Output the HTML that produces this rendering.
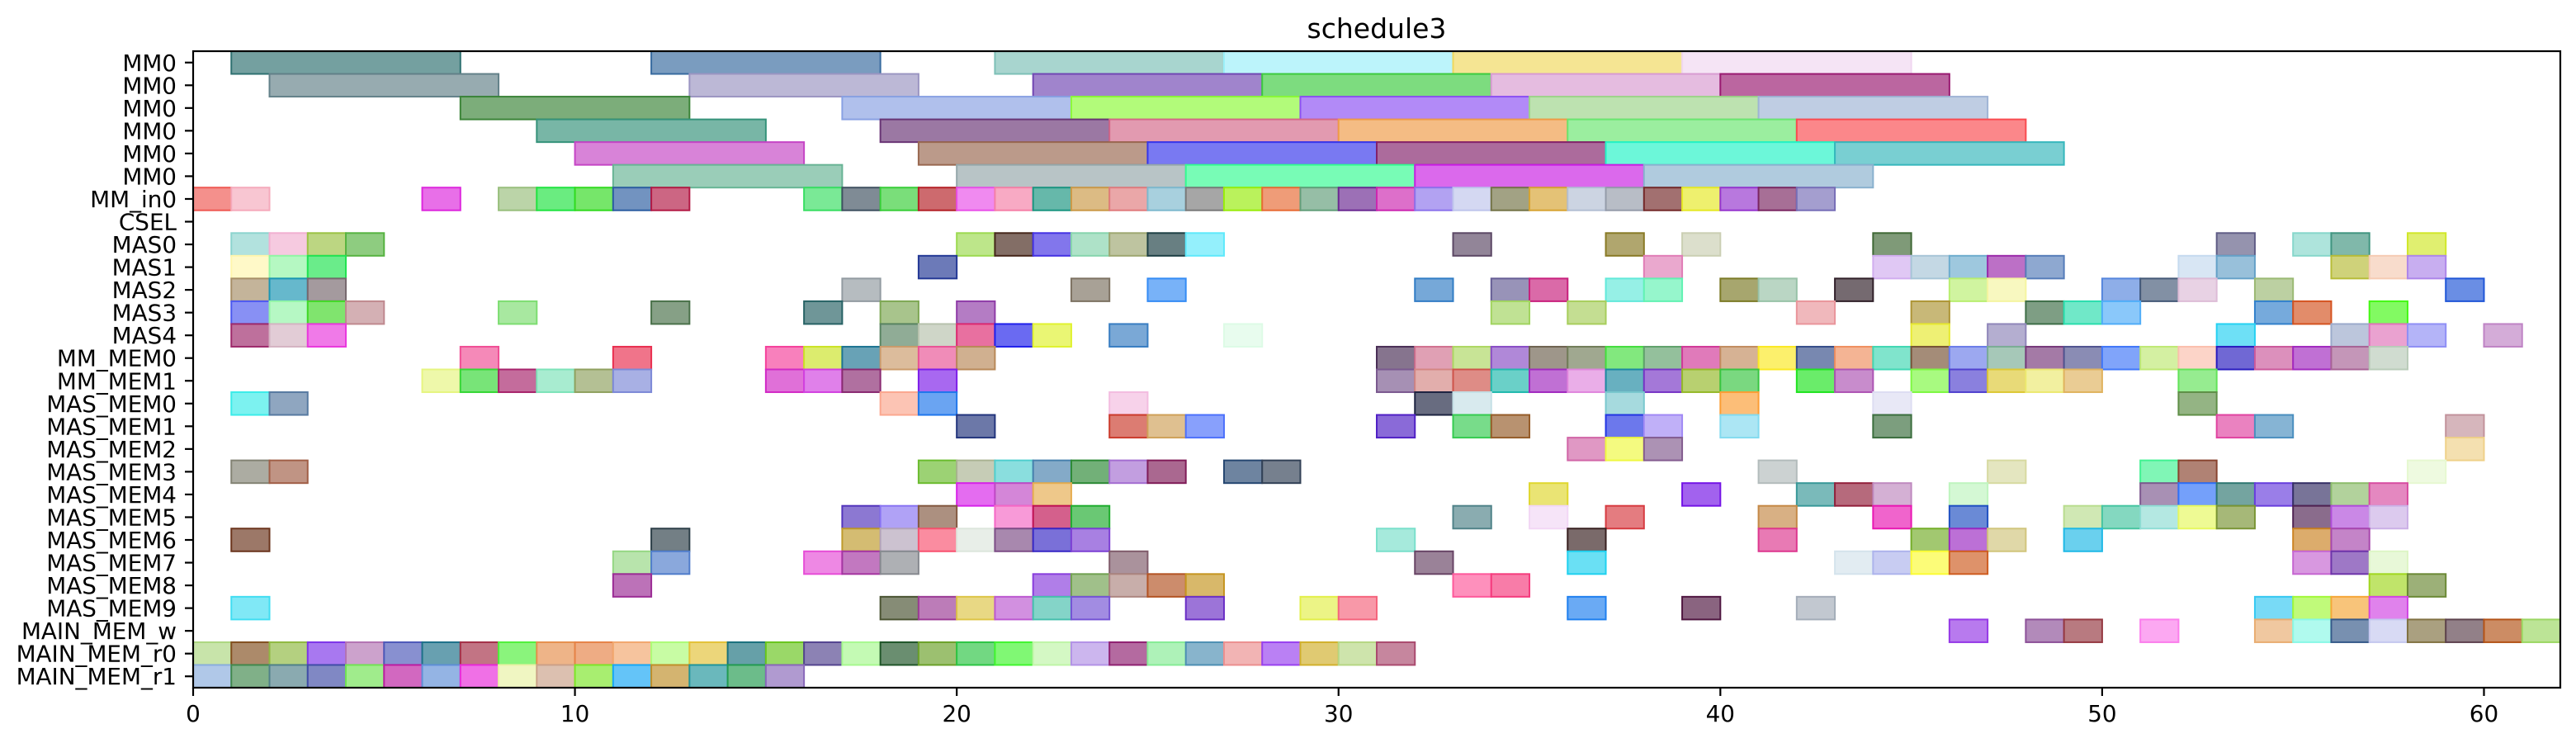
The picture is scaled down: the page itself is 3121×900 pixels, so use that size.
<!DOCTYPE html>
<html>
<head>
<meta charset="utf-8">
<style>
html,body{margin:0;padding:0;background:#fff;}
svg{display:block;font-family:"DejaVu Sans","Liberation Sans",sans-serif;}
</style>
</head>
<body>
<svg id="chart" width="3121" height="900" viewBox="0 0 3121 900" xmlns="http://www.w3.org/2000/svg">
  <rect x="0" y="0" width="3121" height="900" fill="#fff"/>
  <text x="1668" y="46" font-size="33" text-anchor="middle" fill="#000">schedule3</text>
  <g id="bars"></g>
  <g id="axes"></g>
</svg>
<script>
const rowLabels = ["MM0","MM0","MM0","MM0","MM0","MM0","MM_in0","CSEL","MAS0","MAS1","MAS2","MAS3","MAS4","MM_MEM0","MM_MEM1","MAS_MEM0","MAS_MEM1","MAS_MEM2","MAS_MEM3","MAS_MEM4","MAS_MEM5","MAS_MEM6","MAS_MEM7","MAS_MEM8","MAS_MEM9","MAIN_MEM_w","MAIN_MEM_r0","MAIN_MEM_r1"];
const xTicks = [0,10,20,30,40,50,60];
const longDur = 6;
// long MM0 bars: [row, start, color]
const longBars = [
[0,1,"#74a0a0"],[0,12,"#7a9cbf"],[0,21,"#a8d5cf"],[0,27,"#bcf4fb"],[0,33,"#f5e593"],[0,39,"#f5e4f5"],
[1,2,"#97abb0"],[1,13,"#bcb8d6"],[1,22,"#a084cc"],[1,28,"#7ddc7f"],[1,34,"#e5bce0"],[1,40,"#bb66a0"],
[2,7,"#7cad7a"],[2,17,"#b0c0ec"],[2,23,"#b2fb7a"],[2,29,"#b28af7"],[2,35,"#bde2b0"],[2,41,"#bfcde3"],
[3,9,"#78b6a6"],[3,18,"#9b78a3"],[3,24,"#e29ab0"],[3,30,"#f4bc84"],[3,36,"#9bee9f"],[3,42,"#fb878a"],
[4,10,"#d883d8"],[4,19,"#bb9a8a"],[4,25,"#7979f2"],[4,31,"#ac6b9c"],[4,37,"#6cf7d9"],[4,43,"#79cfd2"],
[5,11,"#9acdb8"],[5,20,"#b8c4c6"],[5,26,"#78fcb6"],[5,32,"#db69ec"],[5,38,"#b0cbde"]
];
// unit cells per row index: [start, color]
const cellRows = {
6:[[0,"#f4908c"],[1,"#f8c6d2"],[6,"#e86fe8"],[8,"#bbd4a8"],[9,"#6aec80"],[10,"#76e66a"],[11,"#7293c0"],[12,"#cc6683"],[16,"#7ae996"],[17,"#7f8b95"],[18,"#7ade7a"],[19,"#cd6a6e"],[20,"#f08af0"],[21,"#f8aac4"],[22,"#66b8aa"],[23,"#dcbb84"],[24,"#eaa7a8"],[25,"#a8d0de"],[26,"#a6a6a6"],[27,"#baf25c"],[28,"#ef9c78"],[29,"#96bea6"],[30,"#9c70b6"],[31,"#dd6fca"],[32,"#b2a2f2"],[33,"#d4d8f2"],[34,"#a2a284"],[35,"#e4c276"],[36,"#ccd4e2"],[37,"#b8bdc6"],[38,"#a27070"],[39,"#eef06e"],[40,"#b878de"],[41,"#a76f96"],[42,"#a49ecf"]],
8:[[1,"#b2e2de"],[2,"#f6cae0"],[3,"#bcd682"],[4,"#8ecc80"],[20,"#bde68a"],[21,"#836e66"],[22,"#8276ec"],[23,"#aee2c8"],[24,"#bec4a0"],[25,"#687f82"],[26,"#94f0fc"],[33,"#928598"],[37,"#b0a66e"],[39,"#dcdfcc"],[44,"#7f9a78"],[53,"#9593ae"],[55,"#aee4dc"],[56,"#80b8aa"],[58,"#e0ef70"]],
9:[[1,"#fff9c8"],[2,"#b5f8c2"],[3,"#6aec8a"],[19,"#6c7ab8"],[38,"#eaa8ce"],[44,"#e0c8f4"],[45,"#c4d8e4"],[46,"#9ec8de"],[47,"#bc70c6"],[48,"#8ea8d0"],[52,"#d8e6f4"],[53,"#98c0da"],[56,"#cfd27a"],[57,"#f8dccc"],[58,"#c8aef0"]],
10:[[1,"#c4b49a"],[2,"#66b8cc"],[3,"#a49a9e"],[17,"#b6bcc0"],[23,"#a8a196"],[25,"#78b2f8"],[32,"#76a8d8"],[34,"#9893b8"],[35,"#da6aa8"],[37,"#96f0e6"],[38,"#96f6cc"],[40,"#a7a66e"],[41,"#bad6c4"],[43,"#756a70"],[46,"#d0f4a0"],[47,"#f8f8c0"],[50,"#8eaee8"],[51,"#8290a4"],[52,"#e8d2e4"],[54,"#bcd0a2"],[59,"#6a8ee4"]],
11:[[1,"#8890f4"],[2,"#b6f8c4"],[3,"#80e46e"],[4,"#d4b0b4"],[8,"#a8e8a0"],[12,"#86a086"],[16,"#6f9698"],[18,"#a8c48c"],[20,"#b47cc4"],[34,"#c0e294"],[36,"#c4de92"],[42,"#f0b8bc"],[45,"#c8b878"],[48,"#7e9e84"],[49,"#70e8c8"],[50,"#8ac8fa"],[54,"#76aadc"],[55,"#e28c6a"],[57,"#82fa62"]],
12:[[1,"#be709c"],[2,"#e2ccd6"],[3,"#f07ae8"],[18,"#90ac96"],[19,"#cfd6c8"],[20,"#e870a0"],[21,"#6a6af2"],[22,"#eaf674"],[24,"#7aa8d6"],[27,"#e8fcee"],[45,"#eef074"],[47,"#b4aed0"],[53,"#6ee0f6"],[56,"#bcc6dc"],[57,"#eaa2d0"],[58,"#b4b4f8"],[60,"#d4acd8"]],
13:[[7,"#f589b8"],[11,"#f0748a"],[15,"#f880bc"],[16,"#dcec6e"],[17,"#68a2b6"],[18,"#dcbc9c"],[19,"#f08cb8"],[20,"#d0b090"],[31,"#86748e"],[32,"#e0a0b4"],[33,"#c8e496"],[34,"#b088d8"],[35,"#9e968a"],[36,"#a0a890"],[37,"#82e87e"],[38,"#94c09c"],[39,"#e07aba"],[40,"#d6b294"],[41,"#fcf06c"],[42,"#7888b0"],[43,"#f4b494"],[44,"#80e4cc"],[45,"#a48c78"],[46,"#9ca8f0"],[47,"#a6c8b8"],[48,"#a47aa6"],[49,"#8a8cb4"],[50,"#80a4fa"],[51,"#d4f0a2"],[52,"#fcd4c8"],[53,"#7068d4"],[54,"#dc90bc"],[55,"#c070d4"],[56,"#c496b8"],[57,"#d0dcd0"]],
14:[[6,"#eef8aa"],[7,"#78e478"],[8,"#c46c9c"],[9,"#a8ecd0"],[10,"#b4c094"],[11,"#a8b0e4"],[15,"#e070d8"],[16,"#e080ea"],[17,"#b070a0"],[19,"#a868f0"],[31,"#a690b4"],[32,"#e2aeac"],[33,"#de8c86"],[34,"#6ad0c8"],[35,"#c070d4"],[36,"#eaaee8"],[37,"#68b0c0"],[38,"#a478d8"],[39,"#b8d070"],[40,"#7ad880"],[42,"#6aec6a"],[43,"#c88ccc"],[45,"#a8fa80"],[46,"#8a80de"],[47,"#e8da78"],[48,"#f2f0a0"],[49,"#eacc94"],[52,"#96ec90"]],
15:[[1,"#7cf2f0"],[2,"#8fa6c0"],[18,"#fcc4b4"],[19,"#6aa4f2"],[24,"#f7d2ea"],[32,"#686c80"],[33,"#d8eaee"],[37,"#a6dade"],[40,"#fcbe78"],[44,"#e8e8f6"],[52,"#94b484"]],
16:[[20,"#6c78a8"],[24,"#dc7c72"],[25,"#dfc090"],[26,"#88a0fc"],[31,"#8a6ad8"],[33,"#78dc8a"],[34,"#b89270"],[37,"#6c78ec"],[38,"#c0b0f8"],[40,"#ace6f4"],[44,"#7c9e7e"],[53,"#ea82c0"],[54,"#86b4d4"],[59,"#d6b6bc"]],
17:[[36,"#e098c4"],[37,"#f4fa80"],[38,"#ac92b4"],[59,"#f4e0b0"]],
18:[[1,"#acaca2"],[2,"#c09484"],[19,"#9cd274"],[20,"#c6ccb6"],[21,"#8adede"],[22,"#84aac8"],[23,"#72b078"],[24,"#c29ee0"],[25,"#aa6890"],[27,"#6e84a0"],[28,"#76808e"],[41,"#ccd2d2"],[47,"#e4e6c0"],[51,"#80f6b6"],[52,"#b08274"],[58,"#eefae0"]],
19:[[20,"#e46cf0"],[21,"#d486d8"],[22,"#eec88a"],[35,"#eae474"],[39,"#a262ee"],[42,"#7ababa"],[43,"#b66a7c"],[44,"#d4b0d4"],[46,"#d4f8d4"],[51,"#a890b4"],[52,"#74a0fa"],[53,"#74a4a0"],[54,"#9a7ee8"],[55,"#787498"],[56,"#b2d29c"],[57,"#e488c0"]],
20:[[17,"#8c78d2"],[18,"#b0a2f6"],[19,"#ac9080"],[21,"#f89ad8"],[22,"#d4608c"],[23,"#6ac874"],[33,"#8aacb0"],[35,"#f6e4f8"],[37,"#e47c80"],[41,"#d8b084"],[44,"#f064cc"],[46,"#6a8ad6"],[49,"#d0e8b4"],[50,"#84d8c0"],[51,"#b4e8e2"],[52,"#eefa94"],[53,"#a6b878"],[55,"#8a6c8c"],[56,"#ca88e6"],[57,"#dccaee"]],
21:[[1,"#9c7868"],[12,"#737f85"],[17,"#d4bc72"],[18,"#ccc2d0"],[19,"#fa8ca0"],[20,"#e8eee8"],[21,"#a888ae"],[22,"#7a70d8"],[23,"#a880e2"],[31,"#a6eadc"],[36,"#7a6a6a"],[41,"#e87ab4"],[45,"#a2c870"],[46,"#bc70d6"],[47,"#e0d8a8"],[49,"#6ad0ee"],[55,"#dcac6c"],[56,"#c484c8"]],
22:[[11,"#b8e4ac"],[12,"#8aa8dc"],[16,"#ee88e4"],[17,"#c278c0"],[18,"#aeb0b4"],[24,"#aa929c"],[32,"#9a8298"],[36,"#6ae0f4"],[43,"#e2ecf2"],[44,"#c8ccf2"],[45,"#fcfc78"],[46,"#de926a"],[55,"#d898e0"],[56,"#9e78c6"],[57,"#e8f8d8"]],
23:[[11,"#bc72b8"],[22,"#b07ee8"],[23,"#a0c08a"],[24,"#c8aeaa"],[25,"#cc8c6c"],[26,"#d8b86a"],[33,"#fe90bc"],[34,"#f87ca8"],[57,"#c0e46a"],[58,"#9cb078"]],
24:[[1,"#80e8f6"],[18,"#868c76"],[19,"#bc7cb8"],[20,"#e8d884"],[21,"#d290e0"],[22,"#84d4c8"],[23,"#a28ce2"],[26,"#9c74d8"],[29,"#ecf486"],[30,"#f898a8"],[36,"#6aaaf4"],[39,"#8a6480"],[42,"#c2c8d0"],[54,"#78daf6"],[55,"#c0fa7a"],[56,"#f8c47a"],[57,"#e082ec"]],
25:[[46,"#b87aee"],[48,"#b28aba"],[49,"#b87a80"],[51,"#fca8f2"],[54,"#f0c8a0"],[55,"#b0faee"],[56,"#7890b0"],[57,"#d8daf4"],[58,"#aaa080"],[59,"#928088"],[60,"#cc8c64"],[61,"#bce496"]],
26:[[0,"#c8e4aa"],[1,"#ac8a6a"],[2,"#b4d080"],[3,"#a878f0"],[4,"#cca2cc"],[5,"#8890d0"],[6,"#68a0b0"],[7,"#c27484"],[8,"#8af47c"],[9,"#eeb488"],[10,"#eeac84"],[11,"#f6c49e"],[12,"#c8fca4"],[13,"#ecd67a"],[14,"#66a0a8"],[15,"#9ad868"],[16,"#8c82b4"],[17,"#c4fab4"],[18,"#6a8e70"],[19,"#9cc070"],[20,"#72d882"],[21,"#80f874"],[22,"#d4f8c4"],[23,"#ccb6ee"],[24,"#b46aa0"],[25,"#aef2b8"],[26,"#88b4cc"],[27,"#f2b4b4"],[28,"#ba80f4"],[29,"#e0ca72"],[30,"#cee4ac"],[31,"#c6869e"]],
27:[[0,"#b0c8e8"],[1,"#80b088"],[2,"#8aaab0"],[3,"#8088c4"],[4,"#a0ec8c"],[5,"#d268c0"],[6,"#94b4e4"],[7,"#f070e6"],[8,"#f0f6c2"],[9,"#dcc0b0"],[10,"#a8ee70"],[11,"#64c4f8"],[12,"#d4b470"],[13,"#6ab8bc"],[14,"#6cbc8a"],[15,"#b09ad0"]]
};

const NS = "http://www.w3.org/2000/svg";
const PL = 234, PR = 3102, PT = 62, PB = 833;
const XMIN = 0, XMAX = 62, NROWS = rowLabels.length;
const xs = v => PL + (v - XMIN) / (XMAX - XMIN) * (PR - PL);
const rowH = (PB - PT) / NROWS;
const ys = r => PT + r * rowH;

function edgeColor(hex){
  const n = parseInt(hex.slice(1),16);
  const ch = [(n>>16)&255,(n>>8)&255,n&255].map(c=>Math.max(0,Math.round(255-(255-c)*1.5)));
  return "rgb("+ch.join(",")+")";
}

const barsG = document.getElementById("bars");
function addBox(row, start, dur, color){
  const r = document.createElementNS(NS,"rect");
  r.setAttribute("x", xs(start));
  r.setAttribute("y", ys(row));
  r.setAttribute("width", xs(start+dur)-xs(start));
  r.setAttribute("height", rowH);
  r.setAttribute("fill", color);
  r.setAttribute("stroke", edgeColor(color));
  r.setAttribute("stroke-width", "2");
  
  
  barsG.appendChild(r);
}
longBars.forEach(b => addBox(b[0], b[1], longDur, b[2]));
Object.keys(cellRows).forEach(k => {
  cellRows[k].forEach(c => addBox(+k, c[0], 1, c[1]));
});

const axesG = document.getElementById("axes");
const frame = document.createElementNS(NS,"rect");
frame.setAttribute("x", PL); frame.setAttribute("y", PT);
frame.setAttribute("width", PR-PL); frame.setAttribute("height", PB-PT);
frame.setAttribute("fill","none"); frame.setAttribute("stroke","#000"); frame.setAttribute("stroke-width","2.2");


axesG.appendChild(frame);

rowLabels.forEach((lab, i) => {
  const cy = ys(i) + rowH/2;
  const t = document.createElementNS(NS,"line");
  t.setAttribute("x1", PL-10); t.setAttribute("x2", PL);
  t.setAttribute("y1", cy); t.setAttribute("y2", cy);
  t.setAttribute("stroke","#000"); t.setAttribute("stroke-width","2.2");
  
  
  axesG.appendChild(t);
  const tx = document.createElementNS(NS,"text");
  tx.setAttribute("x", PL-20); tx.setAttribute("y", cy+10);
  tx.setAttribute("text-anchor","end"); tx.setAttribute("font-size","27.8");
  tx.textContent = lab;
  
  
  axesG.appendChild(tx);
});

xTicks.forEach(v => {
  const x = xs(v);
  const t = document.createElementNS(NS,"line");
  t.setAttribute("x1", x); t.setAttribute("x2", x);
  t.setAttribute("y1", PB); t.setAttribute("y2", PB+10);
  t.setAttribute("stroke","#000"); t.setAttribute("stroke-width","2.2");
  
  
  axesG.appendChild(t);
  const tx = document.createElementNS(NS,"text");
  tx.setAttribute("x", x); tx.setAttribute("y", PB+41);
  tx.setAttribute("text-anchor","middle"); tx.setAttribute("font-size","27.8");
  tx.textContent = String(v);
  
  
  axesG.appendChild(tx);
});
</script>
</body>
</html>
